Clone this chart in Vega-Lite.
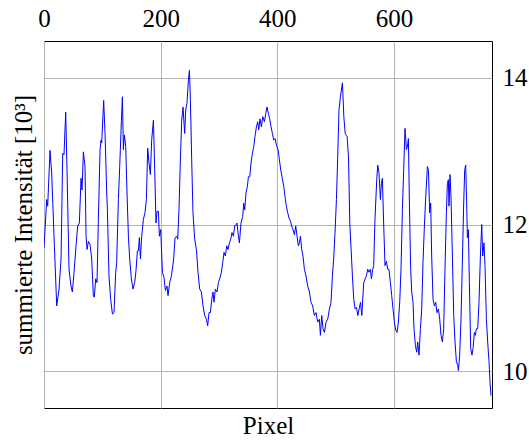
{
  "$schema": "https://vega.github.io/schema/vega-lite/v6.json",
  "width": 448,
  "height": 367,
  "autosize": "none",
  "padding": {"left": 44, "top": 41, "right": 37, "bottom": 33},
  "background": "white",
  "config": {
    "view": {"stroke": "#000000", "strokeWidth": 1},
    "font": "Times New Roman, Liberation Serif, serif",
    "axis": {
      "labelFont": "Times New Roman, Liberation Serif, serif",
      "titleFont": "Times New Roman, Liberation Serif, serif",
      "labelColor": "#000000",
      "titleColor": "#000000",
      "titleFontWeight": "normal",
      "labelFontSize": 25,
      "titleFontSize": 25,
      "labelFlush": false,
      "labelOverlap": false
    }
  },
  "data": {
    "values": [
      {"pixel": 0, "intensity": 11.68}, {"pixel": 4.6, "intensity": 12.34}, {"pixel": 6.3, "intensity": 12.25}, {"pixel": 10.3, "intensity": 13.01}, {"pixel": 13.2, "intensity": 12.70}, {"pixel": 17.8, "intensity": 11.71}, {"pixel": 21.8, "intensity": 10.89}, {"pixel": 25.8, "intensity": 11.12}, {"pixel": 29.2, "intensity": 11.53}, {"pixel": 32.1, "intensity": 12.97}, {"pixel": 34.3, "intensity": 12.95}, {"pixel": 37.2, "intensity": 13.53}, {"pixel": 39.5, "intensity": 12.74}, {"pixel": 42.9, "intensity": 11.39}, {"pixel": 46.3, "intensity": 11.16}, {"pixel": 48.6, "intensity": 11.08}, {"pixel": 51.5, "intensity": 11.35}, {"pixel": 54.9, "intensity": 11.71}, {"pixel": 57.8, "intensity": 11.98}, {"pixel": 60.6, "intensity": 12.02}, {"pixel": 63.5, "intensity": 12.63}, {"pixel": 65.2, "intensity": 12.47}, {"pixel": 67.5, "intensity": 12.99}, {"pixel": 70.3, "intensity": 12.79}, {"pixel": 72.1, "intensity": 11.84}, {"pixel": 73.8, "intensity": 11.66}, {"pixel": 76.1, "intensity": 11.77}, {"pixel": 78.9, "intensity": 11.73}, {"pixel": 81.8, "intensity": 11.53}, {"pixel": 84.6, "intensity": 11.03}, {"pixel": 86.3, "intensity": 11.01}, {"pixel": 88.6, "intensity": 11.26}, {"pixel": 90.9, "intensity": 11.21}, {"pixel": 93.2, "intensity": 12.07}, {"pixel": 96.1, "intensity": 13.02}, {"pixel": 97.8, "intensity": 13.15}, {"pixel": 98.9, "intensity": 13.11}, {"pixel": 102.3, "intensity": 13.69}, {"pixel": 104.6, "intensity": 13.24}, {"pixel": 105.8, "intensity": 12.92}, {"pixel": 107.5, "intensity": 12.43}, {"pixel": 108.7, "intensity": 12.20}, {"pixel": 111.4, "intensity": 11.30}, {"pixel": 114.3, "intensity": 10.98}, {"pixel": 117.3, "intensity": 10.78}, {"pixel": 120.0, "intensity": 10.80}, {"pixel": 122.9, "intensity": 11.35}, {"pixel": 124.6, "intensity": 11.48}, {"pixel": 127.5, "intensity": 12.34}, {"pixel": 129.8, "intensity": 12.79}, {"pixel": 132.7, "intensity": 13.42}, {"pixel": 134.4, "intensity": 13.74}, {"pixel": 136.1, "intensity": 13.02}, {"pixel": 137.8, "intensity": 13.22}, {"pixel": 140.1, "intensity": 13.06}, {"pixel": 142.3, "intensity": 12.43}, {"pixel": 144.7, "intensity": 11.84}, {"pixel": 146.9, "intensity": 11.53}, {"pixel": 149.8, "intensity": 11.26}, {"pixel": 152.6, "intensity": 11.12}, {"pixel": 155.5, "intensity": 11.21}, {"pixel": 157.7, "intensity": 11.37}, {"pixel": 160.1, "intensity": 11.64}, {"pixel": 161.8, "intensity": 11.64}, {"pixel": 163.5, "intensity": 11.82}, {"pixel": 165.3, "intensity": 11.53}, {"pixel": 167.5, "intensity": 11.84}, {"pixel": 170.4, "intensity": 12.07}, {"pixel": 173.1, "intensity": 12.16}, {"pixel": 175.5, "intensity": 12.34}, {"pixel": 177.8, "intensity": 13.04}, {"pixel": 180.0, "intensity": 12.84}, {"pixel": 182.4, "intensity": 12.68}, {"pixel": 184.6, "intensity": 13.15}, {"pixel": 187.6, "intensity": 13.42}, {"pixel": 189.8, "intensity": 12.74}, {"pixel": 192.0, "intensity": 12.02}, {"pixel": 193.7, "intensity": 12.18}, {"pixel": 196.1, "intensity": 12.18}, {"pixel": 197.8, "intensity": 11.84}, {"pixel": 200.1, "intensity": 11.93}, {"pixel": 203.0, "intensity": 11.35}, {"pixel": 205.7, "intensity": 11.28}, {"pixel": 208.1, "intensity": 11.10}, {"pixel": 210.9, "intensity": 11.16}, {"pixel": 212.6, "intensity": 11.03}, {"pixel": 215.5, "intensity": 11.21}, {"pixel": 218.4, "intensity": 11.30}, {"pixel": 222.3, "intensity": 11.53}, {"pixel": 224.6, "intensity": 11.82}, {"pixel": 227.5, "intensity": 11.84}, {"pixel": 229.2, "intensity": 11.80}, {"pixel": 231.4, "intensity": 12.20}, {"pixel": 233.8, "intensity": 12.88}, {"pixel": 236.1, "intensity": 13.42}, {"pixel": 238.3, "intensity": 13.60}, {"pixel": 241.2, "intensity": 13.24}, {"pixel": 242.9, "intensity": 13.56}, {"pixel": 245.1, "intensity": 13.65}, {"pixel": 247.5, "intensity": 13.96}, {"pixel": 249.3, "intensity": 14.10}, {"pixel": 251.0, "intensity": 13.69}, {"pixel": 253.2, "intensity": 12.88}, {"pixel": 255.4, "intensity": 12.16}, {"pixel": 258.3, "intensity": 11.80}, {"pixel": 261.3, "intensity": 11.66}, {"pixel": 264.0, "intensity": 11.35}, {"pixel": 266.9, "intensity": 11.12}, {"pixel": 269.8, "intensity": 11.08}, {"pixel": 272.6, "intensity": 10.89}, {"pixel": 275.5, "intensity": 10.76}, {"pixel": 278.4, "intensity": 10.71}, {"pixel": 280.6, "intensity": 10.62}, {"pixel": 282.9, "intensity": 10.80}, {"pixel": 285.3, "intensity": 10.80}, {"pixel": 287.5, "intensity": 10.98}, {"pixel": 289.7, "intensity": 11.08}, {"pixel": 291.4, "intensity": 10.94}, {"pixel": 293.8, "intensity": 11.12}, {"pixel": 296.6, "intensity": 11.08}, {"pixel": 299.0, "intensity": 11.21}, {"pixel": 301.2, "intensity": 11.26}, {"pixel": 304.1, "intensity": 11.35}, {"pixel": 306.4, "intensity": 11.48}, {"pixel": 308.6, "intensity": 11.62}, {"pixel": 311.0, "intensity": 11.57}, {"pixel": 313.2, "intensity": 11.71}, {"pixel": 315.5, "intensity": 11.66}, {"pixel": 317.9, "intensity": 11.75}, {"pixel": 320.1, "intensity": 11.80}, {"pixel": 322.3, "intensity": 11.89}, {"pixel": 324.7, "intensity": 11.84}, {"pixel": 326.9, "intensity": 11.98}, {"pixel": 328.1, "intensity": 11.98}, {"pixel": 330.9, "intensity": 12.02}, {"pixel": 333.3, "intensity": 11.84}, {"pixel": 335.0, "intensity": 11.75}, {"pixel": 337.7, "intensity": 12.02}, {"pixel": 340.6, "intensity": 12.11}, {"pixel": 342.4, "intensity": 12.29}, {"pixel": 344.1, "intensity": 12.20}, {"pixel": 346.3, "intensity": 12.43}, {"pixel": 348.7, "intensity": 12.52}, {"pixel": 350.4, "intensity": 12.65}, {"pixel": 352.7, "intensity": 12.65}, {"pixel": 354.9, "intensity": 12.84}, {"pixel": 357.3, "intensity": 12.97}, {"pixel": 359.6, "intensity": 13.06}, {"pixel": 361.7, "intensity": 13.20}, {"pixel": 364.1, "intensity": 13.33}, {"pixel": 366.4, "intensity": 13.40}, {"pixel": 368.1, "intensity": 13.29}, {"pixel": 370.3, "intensity": 13.44}, {"pixel": 372.7, "intensity": 13.33}, {"pixel": 375.0, "intensity": 13.47}, {"pixel": 377.9, "intensity": 13.40}, {"pixel": 380.1, "intensity": 13.51}, {"pixel": 382.3, "intensity": 13.60}, {"pixel": 384.7, "intensity": 13.51}, {"pixel": 386.9, "intensity": 13.44}, {"pixel": 389.2, "intensity": 13.33}, {"pixel": 391.6, "intensity": 13.24}, {"pixel": 393.8, "intensity": 13.15}, {"pixel": 396.1, "intensity": 13.17}, {"pixel": 398.5, "intensity": 13.08}, {"pixel": 401.2, "intensity": 13.02}, {"pixel": 403.6, "intensity": 12.88}, {"pixel": 405.9, "intensity": 12.74}, {"pixel": 408.0, "intensity": 12.65}, {"pixel": 411.0, "intensity": 12.52}, {"pixel": 413.1, "intensity": 12.38}, {"pixel": 415.5, "intensity": 12.25}, {"pixel": 417.8, "intensity": 12.16}, {"pixel": 420.0, "intensity": 12.09}, {"pixel": 422.4, "intensity": 12.05}, {"pixel": 424.6, "intensity": 11.98}, {"pixel": 426.9, "intensity": 11.93}, {"pixel": 429.3, "intensity": 11.86}, {"pixel": 431.5, "intensity": 11.98}, {"pixel": 433.8, "intensity": 11.84}, {"pixel": 436.1, "intensity": 11.71}, {"pixel": 437.8, "intensity": 11.75}, {"pixel": 439.6, "intensity": 11.84}, {"pixel": 441.8, "intensity": 11.66}, {"pixel": 444.0, "intensity": 11.57}, {"pixel": 446.4, "intensity": 11.39}, {"pixel": 449.1, "intensity": 11.30}, {"pixel": 452.1, "intensity": 11.16}, {"pixel": 455.0, "intensity": 11.08}, {"pixel": 457.7, "intensity": 10.94}, {"pixel": 460.6, "intensity": 10.89}, {"pixel": 463.5, "intensity": 10.76}, {"pixel": 466.3, "intensity": 10.80}, {"pixel": 469.2, "intensity": 10.67}, {"pixel": 472.1, "intensity": 10.71}, {"pixel": 473.8, "intensity": 10.49}, {"pixel": 476.1, "intensity": 10.76}, {"pixel": 478.3, "intensity": 10.58}, {"pixel": 480.7, "intensity": 10.53}, {"pixel": 483.5, "intensity": 10.67}, {"pixel": 486.4, "intensity": 10.71}, {"pixel": 489.3, "intensity": 10.85}, {"pixel": 492.0, "intensity": 10.94}, {"pixel": 494.4, "intensity": 11.30}, {"pixel": 496.6, "intensity": 11.53}, {"pixel": 498.9, "intensity": 11.89}, {"pixel": 501.3, "intensity": 12.34}, {"pixel": 503.5, "intensity": 12.92}, {"pixel": 505.7, "intensity": 13.56}, {"pixel": 508.1, "intensity": 13.74}, {"pixel": 511.6, "intensity": 13.93}, {"pixel": 514.0, "intensity": 13.47}, {"pixel": 516.3, "intensity": 13.24}, {"pixel": 517.4, "intensity": 13.22}, {"pixel": 519.6, "intensity": 13.20}, {"pixel": 522.0, "intensity": 12.92}, {"pixel": 524.2, "intensity": 12.02}, {"pixel": 526.5, "intensity": 11.66}, {"pixel": 528.7, "intensity": 11.30}, {"pixel": 531.0, "intensity": 10.98}, {"pixel": 533.3, "intensity": 10.85}, {"pixel": 535.7, "intensity": 10.87}, {"pixel": 538.0, "intensity": 10.76}, {"pixel": 540.2, "intensity": 10.85}, {"pixel": 542.6, "intensity": 10.94}, {"pixel": 544.8, "intensity": 10.76}, {"pixel": 548.1, "intensity": 11.21}, {"pixel": 552.7, "intensity": 11.30}, {"pixel": 554.9, "intensity": 11.39}, {"pixel": 557.1, "intensity": 11.35}, {"pixel": 559.5, "intensity": 11.39}, {"pixel": 561.3, "intensity": 11.26}, {"pixel": 563.5, "intensity": 11.39}, {"pixel": 565.2, "intensity": 11.44}, {"pixel": 567.4, "intensity": 12.07}, {"pixel": 570.4, "intensity": 12.61}, {"pixel": 572.1, "intensity": 12.81}, {"pixel": 574.3, "intensity": 12.70}, {"pixel": 576.7, "intensity": 12.34}, {"pixel": 578.4, "intensity": 12.56}, {"pixel": 580.1, "intensity": 12.63}, {"pixel": 582.4, "intensity": 11.98}, {"pixel": 584.6, "intensity": 11.44}, {"pixel": 587.0, "intensity": 11.50}, {"pixel": 589.2, "intensity": 11.39}, {"pixel": 591.4, "intensity": 11.39}, {"pixel": 593.8, "intensity": 11.21}, {"pixel": 596.1, "intensity": 11.03}, {"pixel": 598.3, "intensity": 10.85}, {"pixel": 600.7, "intensity": 10.67}, {"pixel": 602.9, "intensity": 10.56}, {"pixel": 605.2, "intensity": 10.53}, {"pixel": 607.5, "intensity": 10.67}, {"pixel": 609.8, "intensity": 10.94}, {"pixel": 612.0, "intensity": 11.39}, {"pixel": 614.4, "intensity": 12.20}, {"pixel": 616.6, "intensity": 12.74}, {"pixel": 618.9, "intensity": 13.31}, {"pixel": 621.3, "intensity": 13.02}, {"pixel": 623.0, "intensity": 13.06}, {"pixel": 624.7, "intensity": 13.17}, {"pixel": 626.4, "intensity": 12.29}, {"pixel": 628.6, "intensity": 11.39}, {"pixel": 630.4, "intensity": 11.08}, {"pixel": 632.6, "intensity": 10.94}, {"pixel": 634.3, "intensity": 10.58}, {"pixel": 636.7, "intensity": 10.35}, {"pixel": 638.9, "intensity": 10.26}, {"pixel": 640.6, "intensity": 10.40}, {"pixel": 642.9, "intensity": 10.22}, {"pixel": 645.3, "intensity": 10.58}, {"pixel": 647.5, "intensity": 10.85}, {"pixel": 649.7, "intensity": 11.48}, {"pixel": 652.1, "intensity": 11.98}, {"pixel": 654.4, "intensity": 12.38}, {"pixel": 657.3, "intensity": 12.79}, {"pixel": 659.0, "intensity": 12.74}, {"pixel": 661.2, "intensity": 12.16}, {"pixel": 662.9, "intensity": 12.29}, {"pixel": 664.6, "intensity": 11.57}, {"pixel": 666.9, "intensity": 10.98}, {"pixel": 669.3, "intensity": 10.89}, {"pixel": 671.5, "intensity": 10.94}, {"pixel": 673.7, "intensity": 10.80}, {"pixel": 676.1, "intensity": 10.85}, {"pixel": 678.4, "intensity": 10.71}, {"pixel": 680.6, "intensity": 10.49}, {"pixel": 683.0, "intensity": 10.40}, {"pixel": 685.2, "intensity": 10.58}, {"pixel": 687.4, "intensity": 11.39}, {"pixel": 689.8, "intensity": 12.16}, {"pixel": 691.5, "intensity": 12.56}, {"pixel": 693.2, "intensity": 12.61}, {"pixel": 694.3, "intensity": 12.25}, {"pixel": 696.0, "intensity": 12.68}, {"pixel": 697.7, "intensity": 12.38}, {"pixel": 700.1, "intensity": 11.57}, {"pixel": 702.4, "intensity": 10.76}, {"pixel": 704.6, "intensity": 10.40}, {"pixel": 707.0, "intensity": 10.13}, {"pixel": 709.2, "intensity": 10.08}, {"pixel": 710.4, "intensity": 10.01}, {"pixel": 712.6, "intensity": 10.22}, {"pixel": 714.9, "intensity": 10.71}, {"pixel": 717.3, "intensity": 11.53}, {"pixel": 719.5, "intensity": 12.29}, {"pixel": 721.2, "intensity": 12.74}, {"pixel": 722.9, "intensity": 12.81}, {"pixel": 724.6, "intensity": 12.29}, {"pixel": 725.8, "intensity": 11.82}, {"pixel": 727.5, "intensity": 11.93}, {"pixel": 729.2, "intensity": 11.21}, {"pixel": 731.5, "intensity": 10.31}, {"pixel": 733.7, "intensity": 10.22}, {"pixel": 735.5, "intensity": 10.31}, {"pixel": 737.8, "intensity": 10.53}, {"pixel": 739.5, "intensity": 10.49}, {"pixel": 741.3, "intensity": 10.58}, {"pixel": 743.5, "intensity": 10.58}, {"pixel": 745.7, "intensity": 10.94}, {"pixel": 748.1, "intensity": 11.57}, {"pixel": 750.4, "intensity": 12.00}, {"pixel": 752.1, "intensity": 11.57}, {"pixel": 754.3, "intensity": 11.75}, {"pixel": 756.0, "intensity": 11.44}, {"pixel": 758.4, "intensity": 10.71}, {"pixel": 760.6, "intensity": 10.40}, {"pixel": 762.9, "intensity": 10.13}, {"pixel": 764.6, "intensity": 9.85}, {"pixel": 766.3, "intensity": 9.67}
    ]
  },
  "layer": [
    {
      "mark": {"type": "line", "color": "#0000ff", "strokeWidth": 1, "clip": true},
      "encoding": {
        "x": {
          "field": "pixel", "type": "quantitative",
          "scale": {"domain": [0, 768], "nice": false, "zero": false},
          "axis": {"orient": "top", "values": [0, 200, 400, 600], "title": null, "grid": true, "gridColor": "#b4b4b4", "gridWidth": 1, "domain": false, "ticks": false, "labelPadding": 10}
        },
        "y": {
          "field": "intensity", "type": "quantitative",
          "scale": {"domain": [9.5, 14.5], "nice": false, "zero": false},
          "axis": {"orient": "right", "values": [10, 12, 14], "title": null, "grid": true, "gridColor": "#b4b4b4", "gridWidth": 1, "domain": false, "ticks": false, "labelPadding": 10}
        }
      }
    },
    {
      "mark": {"type": "line", "opacity": 0},
      "encoding": {
        "x": {
          "field": "pixel", "type": "quantitative",
          "axis": {"orient": "bottom", "title": "Pixel", "labels": false, "ticks": false, "domain": false, "grid": false, "titlePadding": 5}
        },
        "y": {
          "field": "intensity", "type": "quantitative",
          "axis": {"orient": "left", "title": "summierte Intensität [10³]", "labels": false, "ticks": false, "domain": false, "grid": false, "titlePadding": 8}
        }
      }
    }
  ],
  "resolve": {"axis": {"x": "independent", "y": "independent"}}
}
